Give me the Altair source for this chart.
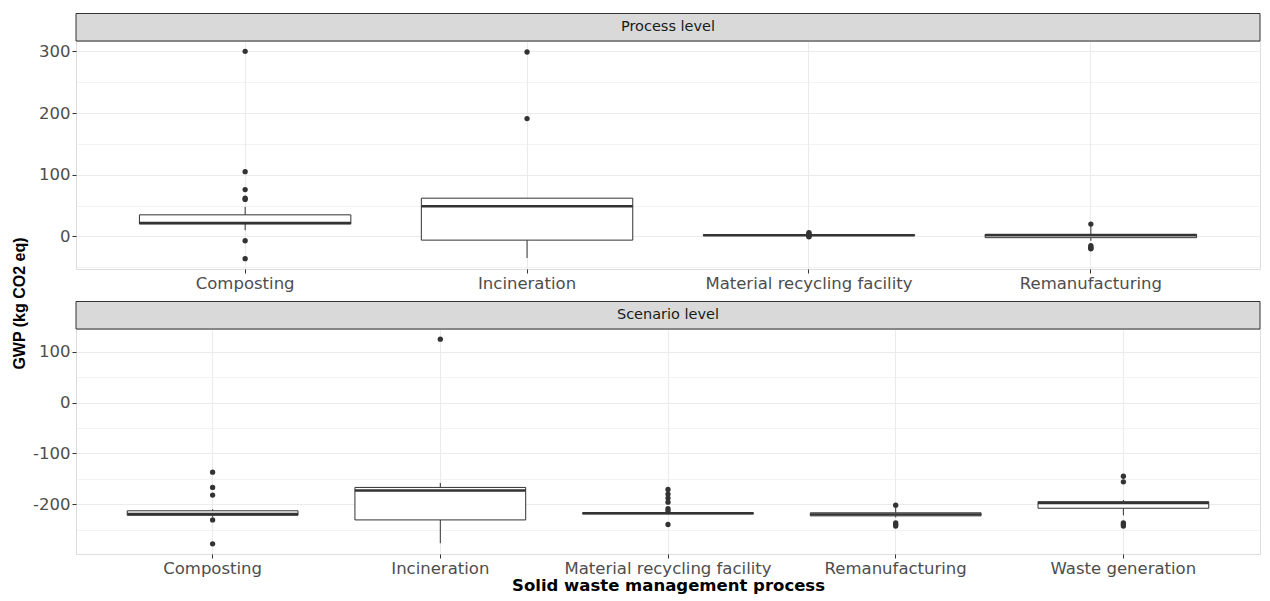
import math
import altair as alt
import pandas as pd

# ---------------- data ----------------
strip_labels = ["Process level", "Scenario level"]
x_title = "Solid waste management process"
y_title = "GWP (kg CO2 eq)"

# Process level
p_cats = ["Composting", "Incineration", "Material recycling facility", "Remanufacturing"]
p_q1 = [20, -6, 1.5, -2]
p_med = [22, 49, 2, 2]
p_q3 = [35, 62, 2.5, 3.5]
p_lo = [10, -35, 1, -7]
p_hi = [48, 62, 3, 17]
p_out_cat = (["Composting"] * 7 + ["Incineration"] * 2
             + ["Material recycling facility"] * 4 + ["Remanufacturing"] * 5)
p_out_val = [300, 105, 76, 62, 60, -7, -36,
             299, 191,
             6, 5, 0, -0.5,
             20, -15, -17, -19, -20]

# Scenario level
s_cats = ["Composting", "Incineration", "Material recycling facility",
          "Remanufacturing", "Waste generation"]
s_q1 = [-222, -231, -219, -223, -208]
s_med = [-219, -173, -218, -220, -198]
s_q3 = [-213, -167, -217, -217, -195]
s_lo = [-225, -277, -220, -226, -222]
s_hi = [-210, -158, -216, -205, -192]
s_out_cat = (["Composting"] * 5 + ["Incineration"] * 1
             + ["Material recycling facility"] * 7 + ["Remanufacturing"] * 4
             + ["Waste generation"] * 5)
s_out_val = [-137, -167, -182, -231, -278,
             125,
             -171, -180, -188, -196, -209, -213, -240,
             -202, -237, -240, -243,
             -145, -156, -237, -240, -243]

# ---------------- style ----------------
W = 1184
STRIP_H = 27.5
DARK = "#333333"
GRID = "#EBEBEB"
LBL = "#4D4D4D"
FONT = "DejaVu Sans"


def panel(label, cats, q1, med, q3, lo, hi, ocat, oval, height, xtitle):
    box = pd.DataFrame(dict(cat=cats, q1=q1, med=med, q3=q3, lo=lo, hi=hi))
    out = pd.DataFrame(dict(cat=ocat, val=oval))
    strip = pd.DataFrame(dict(label=[label]))

    vmin = min(min(lo), min(oval))
    vmax = max(max(hi), max(oval))
    pad = 0.05 * (vmax - vmin)
    dom = [vmin - pad, vmax + pad]
    start = int(math.ceil(dom[0] / 50.0) * 50)
    vals = list(range(start, int(dom[1]) + 1, 50))

    xs = alt.Scale(type="band", domain=cats, paddingInner=0.25, paddingOuter=0.225)
    xaxis_kw = dict(
        grid=True, gridColor=GRID, gridWidth=1.1, domain=False,
        ticks=True, tickColor=DARK, tickSize=4, tickWidth=1,
        labelFont=FONT, labelFontSize=16.5, labelColor=LBL, labelPadding=2,
        labelAngle=0, labelLimit=0,
    )
    if xtitle:
        xaxis = alt.Axis(title=xtitle, titleFont=FONT, titleFontSize=16.5,
                         titleFontWeight="bold", titleColor="black",
                         titlePadding=1, **xaxis_kw)
    else:
        xaxis = alt.Axis(title=None, **xaxis_kw)

    ys = alt.Scale(domain=dom, nice=False, zero=False)
    yaxis = alt.Axis(
        title=None, values=vals,
        labelExpr="datum.value % 100 === 0 ? '' + datum.value : ''",
        grid=True, gridColor=GRID,
        gridWidth={"condition": {"test": "datum.value % 100 === 0", "value": 1.1}, "value": 0.6},
        domain=False, ticks=True, tickColor=DARK, tickSize=4, tickWidth=1,
        tickOpacity={"condition": {"test": "datum.value % 100 === 0", "value": 1}, "value": 0},
        labelFont=FONT, labelFontSize=16.5, labelColor=LBL, labelPadding=2,
    )

    x = alt.X("cat:N", scale=xs, axis=xaxis, sort=cats)

    whisk = alt.Chart(box).mark_rule(color=DARK, strokeWidth=1).encode(
        x=x, y=alt.Y("lo:Q", scale=ys, axis=yaxis), y2="hi:Q")
    body = alt.Chart(box).mark_bar(fill="white", stroke=DARK, strokeWidth=1).encode(
        x=x, y=alt.Y("q1:Q", scale=ys, axis=yaxis), y2="q3:Q")
    mid = alt.Chart(box).mark_bar(fill=DARK, stroke=DARK, strokeWidth=2.4).encode(
        x=x, y=alt.Y("med:Q", scale=ys, axis=yaxis), y2="med:Q")
    pts = alt.Chart(out).mark_circle(size=28, color=DARK, opacity=1).encode(
        x=x, y=alt.Y("val:Q", scale=ys, axis=yaxis))

    srect = alt.Chart(strip).mark_rect(fill="#D9D9D9", stroke=DARK, strokeWidth=1).encode(
        x=alt.value(0), x2=alt.value(W), y=alt.value(-STRIP_H), y2=alt.value(0))
    stext = alt.Chart(strip).mark_text(font=FONT, fontSize=14.5, color="#1A1A1A",
                                       align="center", baseline="middle").encode(
        x=alt.value(W / 2), y=alt.value(-STRIP_H / 2), text="label:N")

    return alt.layer(whisk, body, mid, pts, srect, stext).properties(width=W, height=height)


p1 = panel(strip_labels[0], p_cats, p_q1, p_med, p_q3, p_lo, p_hi,
           p_out_cat, p_out_val, 228, None)
p2 = panel(strip_labels[1], s_cats, s_q1, s_med, s_q3, s_lo, s_hi,
           s_out_cat, s_out_val, 225, x_title)

chart = alt.vconcat(p1, p2, spacing=60, bounds="flush").properties(
    title=alt.TitleParams(text=y_title, orient="left", anchor="middle",
                          font="Liberation Sans", fontSize=16, fontWeight="bold",
                          color="black", offset=4),
    padding={"left": 4, "top": 4, "right": 0, "bottom": 0},
).configure_view(stroke=DARK, strokeWidth=1.1).configure(background="white")

chart.save("out.html", embed_options={"renderer": "svg", "actions": False})
